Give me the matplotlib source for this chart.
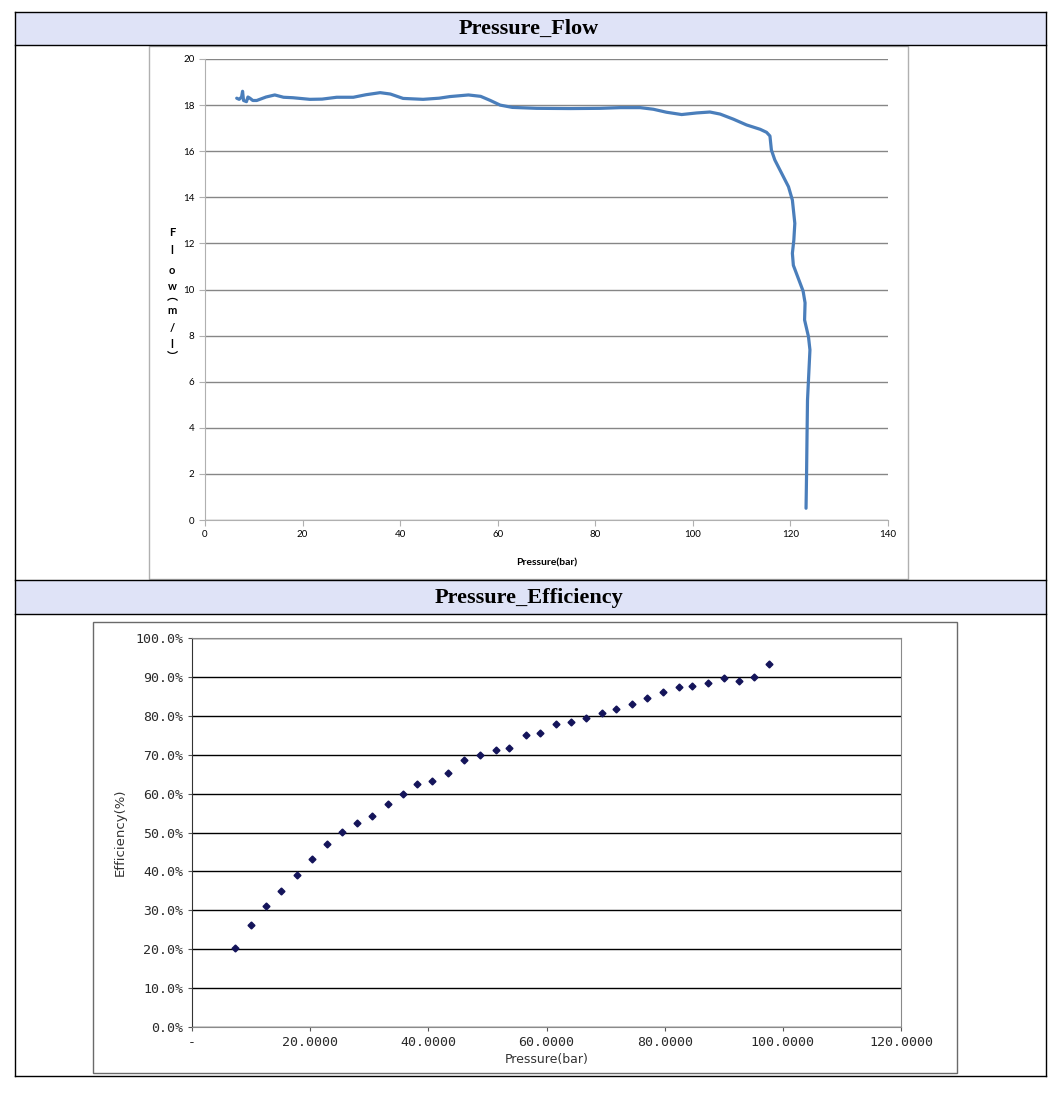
import matplotlib
matplotlib.use("Agg")
import matplotlib.pyplot as plt
from matplotlib.patches import Rectangle
from matplotlib.lines import Line2D
from matplotlib.ticker import FuncFormatter, MultipleLocator

# ---------------- data ----------------
flow_pressure = [6.5, 7.0, 7.5, 7.7, 7.9, 8.5, 8.8, 9.2, 9.8, 10.6, 12.5, 14.3, 16.1, 18.0,
                 21.5, 24.0, 27.0, 30.4, 33.0, 35.9, 38.0, 40.6, 44.7, 48.0, 50.2, 54.0,
                 56.5, 58.5, 60.5, 63.0, 68.0, 75.0, 81.0, 85.1, 89.2, 91.9, 94.6, 97.7,
                 100.8, 103.5, 105.6, 108.3, 111.0, 113.8, 115.1, 115.8, 116.1, 116.8,
                 118.2, 119.6, 120.4, 120.9, 120.7, 120.4, 120.6, 121.6, 122.6, 123.0,
                 122.9, 123.7, 124.0, 123.8, 123.5, 123.4, 123.3, 123.2]
flow_values = [18.30, 18.25, 18.35, 18.60, 18.20, 18.15, 18.35, 18.30, 18.20, 18.20, 18.35,
               18.44, 18.34, 18.32, 18.25, 18.26, 18.34, 18.34, 18.45, 18.54, 18.48, 18.29,
               18.25, 18.30, 18.37, 18.44, 18.38, 18.20, 18.00, 17.90, 17.86, 17.85, 17.86,
               17.89, 17.89, 17.82, 17.69, 17.59, 17.66, 17.70, 17.61, 17.39, 17.14, 16.95,
               16.82, 16.66, 16.05, 15.62, 15.04, 14.46, 13.88, 12.87, 12.15, 11.57, 11.05,
               10.49, 9.93, 9.42, 8.68, 7.95, 7.38, 6.51, 5.20, 3.61, 1.88, 0.51]

eff_pressure = [7.27, 10.0, 12.6, 15.1, 17.7, 20.3, 22.8, 25.4, 28.0, 30.5, 33.2, 35.7,
                38.0, 40.7, 43.4, 46.1, 48.8, 51.4, 53.7, 56.6, 58.9, 61.6, 64.1, 66.7,
                69.4, 71.8, 74.4, 77.0, 79.7, 82.5, 84.7, 87.4, 90.1, 92.6, 95.2, 97.7]
eff_values = [20.4, 26.2, 31.0, 35.0, 39.2, 43.1, 47.0, 50.1, 52.5, 54.2, 57.2, 59.9,
              62.5, 63.2, 65.4, 68.7, 69.8, 71.1, 71.8, 75.0, 75.6, 77.9, 78.3, 79.5,
              80.7, 81.7, 83.0, 84.7, 86.1, 87.3, 87.7, 88.5, 89.6, 89.0, 89.9, 93.3]

title1 = "Pressure_Flow"
title2 = "Pressure_Efficiency"

W, H = 1061, 1094
fig = plt.figure(figsize=(W / 100, H / 100), dpi=100)
fig.patch.set_facecolor("white")


def fx(x):
    return x / W


def fy(y):
    return 1 - y / H


def rect(x0, y0, x1, y1, **kw):
    fig.add_artist(Rectangle((fx(x0), fy(y1)), fx(x1) - fx(x0), fy(y0) - fy(y1),
                             transform=fig.transFigure, zorder=-5, **kw))


def hline(x0, x1, y, **kw):
    fig.add_artist(Line2D([fx(x0), fx(x1)], [fy(y), fy(y)], transform=fig.transFigure,
                          zorder=-4, **kw))


def vline(x, y0, y1, **kw):
    fig.add_artist(Line2D([fx(x), fx(x)], [fy(y0), fy(y1)], transform=fig.transFigure,
                          zorder=-4, **kw))


# ---------------- table frame ----------------
L, R = 15, 1046
rect(L, 12, R, 45, facecolor="#dfe3f7", edgecolor="none")
rect(L, 580, R, 614, facecolor="#dfe3f7", edgecolor="none")
for y in (12, 45, 580, 614, 1076):
    hline(L, R, y, color="black", lw=1.0)
vline(L, 12, 1076, color="black", lw=1.0)
vline(R, 12, 1076, color="black", lw=1.0)

fig.text(fx(529), fy(29), title1, ha="center", va="center", fontsize=16,
         fontweight="bold", family="Liberation Serif")
fig.text(fx(529), fy(598), title2, ha="center", va="center", fontsize=16,
         fontweight="bold", family="Liberation Serif")

# chart frames
rect(149, 46, 908, 579, facecolor="white", edgecolor="#b0b0b0", lw=1.0)
rect(93, 622, 957, 1073, facecolor="white", edgecolor="#6a6a6a", lw=1.0)

# ---------------- top chart ----------------
ax1 = fig.add_axes([fx(205), fy(520), fx(888) - fx(205), fy(59) - fy(520)])
ax1.patch.set_alpha(0)
ax1.plot(flow_pressure, flow_values, color="#4a7ebb", lw=2.3, solid_capstyle="round",
         solid_joinstyle="round")
ax1.set_xlim(0, 140)
ax1.set_ylim(0, 20)
ax1.xaxis.set_major_locator(MultipleLocator(20))
ax1.yaxis.set_major_locator(MultipleLocator(2))
ax1.grid(axis="y", color="#868686", lw=1.0)
ax1.set_axisbelow(True)
for s in ("top", "right"):
    ax1.spines[s].set_visible(False)
for s in ("left", "bottom"):
    ax1.spines[s].set_color("#b0b0b0")
ax1.tick_params(axis="both", colors="#b0b0b0", labelcolor="black", labelsize=7, length=4)
ax1.set_xlabel("Pressure(bar)", fontsize=7.5, fontweight="bold", labelpad=14)
for lab in ax1.get_xticklabels() + ax1.get_yticklabels():
    lab.set_family("Lato")
ax1.xaxis.label.set_family("Lato")

# stacked y label (vertical writing: parentheses turned sideways)
ychars = [("F", 233), ("l", 251), ("o", 270), ("w", 287), ("\uFE35", 297),
          ("m", 310), ("/", 328), ("l", 345), ("\uFE36", 356)]
for ch, yy in ychars:
    fig.text(fx(172), fy(yy), ch, ha="center", va="center", fontsize=8,
             fontweight="bold", family=["Lato", "Noto Sans CJK JP"])

# ---------------- bottom chart ----------------
ax2 = fig.add_axes([fx(192), fy(1027), fx(901) - fx(192), fy(638) - fy(1027)])
ax2.patch.set_alpha(0)
ax2.plot(eff_pressure, eff_values, linestyle="none", marker="D", markersize=3.5,
         color="#14145a")
ax2.set_xlim(0, 120)
ax2.set_ylim(0, 100)
ax2.xaxis.set_major_locator(MultipleLocator(20))
ax2.yaxis.set_major_locator(MultipleLocator(10))
ax2.grid(axis="y", color="black", lw=1.0)
ax2.set_axisbelow(True)
for s in ("top", "right"):
    ax2.spines[s].set_color("#8a8a8a")
ax2.spines["left"].set_color("#333333")
ax2.spines["bottom"].set_color("#8a8a8a")
ax2.xaxis.set_major_formatter(FuncFormatter(lambda v, p: "-" if v == 0 else f"{v:.4f}"))
ax2.yaxis.set_major_formatter(FuncFormatter(lambda v, p: f"{v:.1f}%"))
ax2.tick_params(axis="both", colors="#555555", labelcolor="#2a2a2a", labelsize=9.5,
                length=3)
for lab in ax2.get_xticklabels() + ax2.get_yticklabels():
    lab.set_family("DejaVu Sans Mono")
ax2.set_xlabel("Pressure(bar)", fontsize=9, color="#333333", labelpad=3)
ax2.set_ylabel("Efficiency(%)", fontsize=9.5, color="#333333", labelpad=6)

fig.savefig("out.png", dpi=100)
